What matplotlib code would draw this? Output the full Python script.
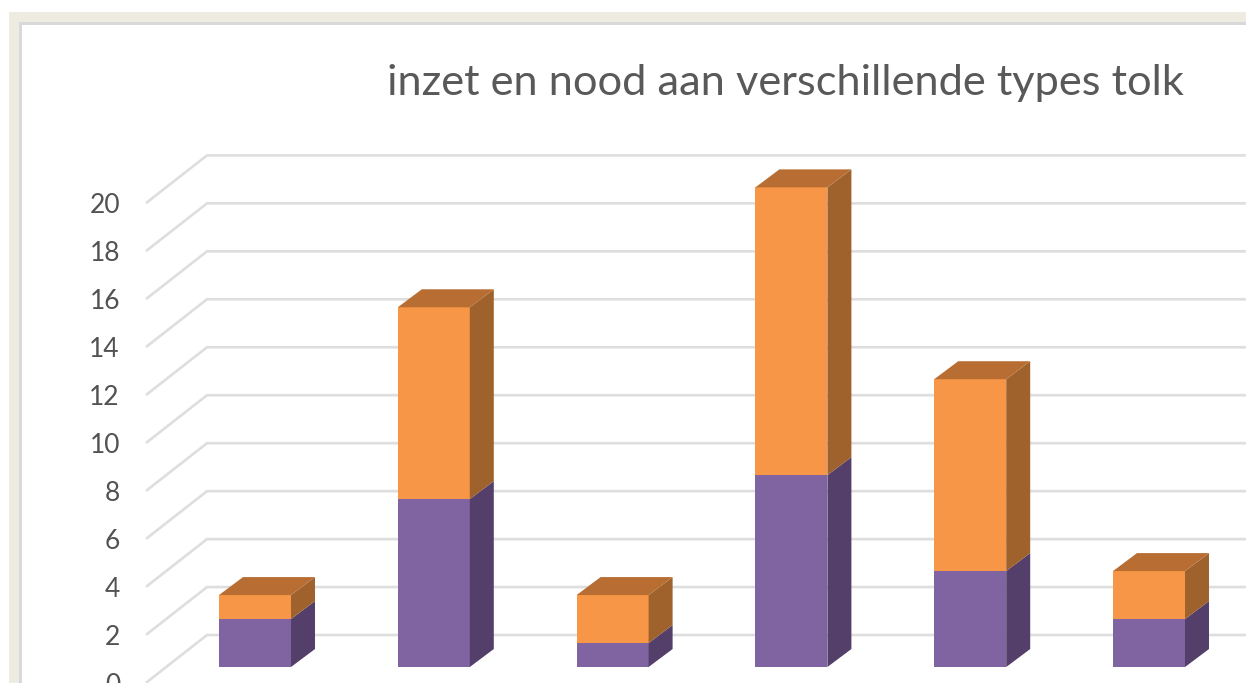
import matplotlib.pyplot as plt
from matplotlib.patches import Rectangle

plt.rcParams['font.family'] = ['Lato', 'DejaVu Sans']

W = 1246
H = 683

purple = [2, 7, 1, 8, 4, 2]
orange = [1, 8, 2, 12, 8, 2]
y_ticks = [0, 2, 4, 6, 8, 10, 12, 14, 16, 18, 20]
title = "inzet en nood aan verschillende types tolk"

# pixels per unit on both axes
px_x = 178.8
px_y = 24.0

fig = plt.figure(figsize=(W / 100, H / 100), dpi=100, facecolor="white")

# window frame behind the chart
fig.patches.append(Rectangle((9 / W, 0), 1 - 9 / W, 1 - 12 / H, transform=fig.transFigure, fc="#EEECE1", ec="none", zorder=-3))
fig.patches.append(Rectangle((19 / W, 0), 1 - 19 / W, 1 - 22 / H, transform=fig.transFigure, fc="#D9D9DC", ec="none", zorder=-2))
fig.patches.append(Rectangle((22 / W, 0), 1 - 22 / W, 1 - 25 / H, transform=fig.transFigure, fc="white", ec="none", zorder=-1))

ax = fig.add_axes([0, 0, 1, 1])
ax.patch.set_alpha(0)
ax.axis("off")
ax.set_xlim(-255 / px_x, (W - 255) / px_x)
ax.set_ylim(-16 / px_y, 667.5 / px_y)

# gridlines run along the side wall, then along the back wall
wall_x = [-108 / px_x, -48 / px_x, (W - 255) / px_x]
front_dy = -15 / px_y
back_dy = 32 / px_y
for v in y_ticks:
    ax.plot(wall_x, [v + front_dy, v + back_dy, v + back_dy], color="#DEDEDE", lw=1.9, zorder=1,
            solid_joinstyle="miter")
    ax.text(-135 / px_x, v + front_dy - 3.5 / px_y, str(v), ha="right", va="center", fontsize=19, color="#525252", clip_on=False)


def side_face(i, low, high, color, z):
    x0 = i + half
    ax.fill([x0, x0 + depth_x, x0 + depth_x, x0],
            [low, low + depth_y, high + depth_y, high],
            color=color, lw=0, zorder=z)


half = 36 / px_x
depth_x = 24 / px_x
depth_y = 18 / px_y

for i in range(len(purple)):
    z = 2 + i
    top = purple[i] + orange[i]
    ax.bar(i, purple[i], width=2 * half, color="#8064A2", zorder=z)
    ax.bar(i, orange[i], width=2 * half, bottom=purple[i], color="#F79646", zorder=z)
    side_face(i, 0, purple[i], "#533F69", z)
    side_face(i, purple[i], top, "#A0622D", z)
    ax.fill([i - half, i + half, i + half + depth_x, i - half + depth_x],
            [top, top, top + depth_y, top + depth_y],
            color="#B86E32", lw=0, zorder=z)

fig.text(785 / W, 1 - 82.5 / H, title, ha="center", va="center", fontsize=31.2, color="#595959")

fig.savefig("out.png", dpi=100)
